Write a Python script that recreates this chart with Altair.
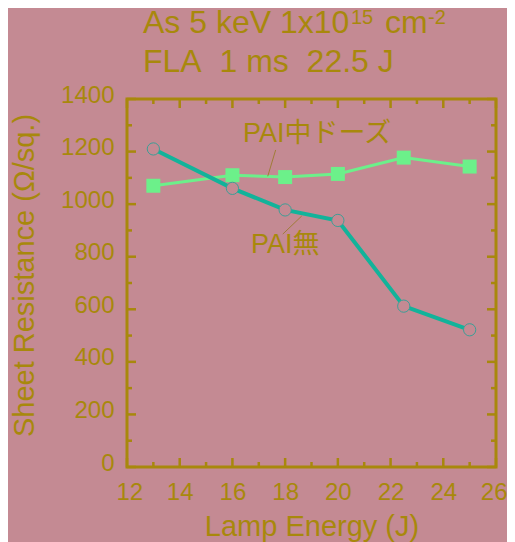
import altair as alt
import pandas as pd

# ---- data ----
energy = [13, 16, 18, 20, 22.5, 25]
rs_no_pai = [1210, 1060, 978, 938, 612, 522]      # PAI無 (open circles)
rs_pai_mid = [1070, 1110, 1103, 1115, 1177, 1143]  # PAI中ドーズ (squares)

x_major = [12, 14, 16, 18, 20, 22, 24, 26]
x_minor = [13, 15, 17, 19, 21, 23, 25]
y_major = [0, 200, 400, 600, 800, 1000, 1200, 1400]
y_minor = [100, 300, 500, 700, 900, 1100, 1300]

label_mid = "PAI中ドーズ"
label_no = "PAI無"
label_mid_pos = [16.40, 1238]
label_no_pos = [16.70, 814]
leader_mid = [[17.64, 1206], [17.34, 1106]]
leader_no = [[18.63, 955], [17.91, 886]]

title1_main = "As 5 keV 1x10"
title1_sup1 = "15"
title1_unit = "cm"
title1_sup2 = "-2"
title2 = "FLA\u00a0\u00a01 ms\u00a0\u00a022.5 J"

x_title = "Lamp Energy (J)"
y_title = "Sheet Resistance (Ω/sq.)"

# ---- style ----
BG = "#C48A93"
GOLD = "#A8880C"
TEAL = "#12B39A"
TEAL_EDGE = "#3E9E96"
GREEN = "#6CF08A"
LEADER = "#A07C38"
FONT = "Liberation Sans, Arial, Noto Sans CJK JP"
W, H = 369, 368

xs = alt.Scale(domain=[12, 26], nice=False, zero=False)
ys = alt.Scale(domain=[0, 1400], nice=False)

df = pd.DataFrame({"E": energy, "no": rs_no_pai, "mid": rs_pai_mid})

x_enc = alt.X("E:Q", scale=xs, axis=alt.Axis(
    values=x_major, ticks=False, domain=False, grid=False, labelFontSize=24,
    labelColor=GOLD, labelFont=FONT, labelPadding=13, labelFlush=True,
    labelFlushOffset=11, labelOverlap=False, title=x_title,
    titleFontSize=29, titleFont=FONT, titleColor=GOLD, titleFontWeight="normal",
    titleY=68, titleBaseline="alphabetic", format="d"))
y_axis = alt.Axis(
    values=y_major, ticks=False, domain=False, grid=False, labelFontSize=24,
    labelColor=GOLD, labelFont=FONT, labelPadding=13, labelOffset=-4,
    labelFlush=False, labelOverlap=False,
    title=y_title, titleFontSize=29, titleFont=FONT, titleColor=GOLD,
    titleFontWeight="normal", titleAngle=-90, titleX=-94, titleY=176,
    titleAlign="center", titleBaseline="alphabetic", format="d")

base = alt.Chart(df)
green_line = base.mark_line(color=GREEN, strokeWidth=3).encode(
    x=x_enc, y=alt.Y("mid:Q", scale=ys, axis=y_axis))
green_pts = base.mark_square(color=GREEN, size=196, opacity=1).encode(
    x=alt.X("E:Q", scale=xs), y=alt.Y("mid:Q", scale=ys))
teal_line = base.mark_line(color=TEAL, strokeWidth=4).encode(
    x=alt.X("E:Q", scale=xs), y=alt.Y("no:Q", scale=ys))
teal_pts = base.mark_point(shape="circle", size=150, filled=False, fill=BG,
                           fillOpacity=1, stroke=TEAL_EDGE, strokeWidth=1,
                           opacity=1).encode(
    x=alt.X("E:Q", scale=xs), y=alt.Y("no:Q", scale=ys))

# ticks (inside the frame)
def xticks(vals, length, top):
    d = pd.DataFrame({"v": vals})
    if top:
        yy, yy2 = alt.value(0), alt.value(length)
    else:
        yy, yy2 = alt.value(H), alt.value(H - length)
    return alt.Chart(d).mark_rule(color=GOLD, strokeWidth=2.5).encode(
        x=alt.X("v:Q", scale=xs), y=yy, y2=yy2)

def yticks(vals, length, right):
    d = pd.DataFrame({"v": vals})
    if right:
        xx, xx2 = alt.value(W), alt.value(W - length)
    else:
        xx, xx2 = alt.value(0), alt.value(length)
    return alt.Chart(d).mark_rule(color=GOLD, strokeWidth=2.5).encode(
        y=alt.Y("v:Q", scale=ys), x=xx, x2=xx2)

ticks = [xticks(x_major, 9, False), xticks(x_major, 9, True),
         xticks(x_minor, 5, False), xticks(x_minor, 5, True),
         yticks(y_major, 9, False), yticks(y_major, 9, True),
         yticks(y_minor, 5, False), yticks(y_minor, 5, True)]

# annotations
def leader(seg):
    d = pd.DataFrame({"x": [seg[0][0]], "y": [seg[0][1]],
                      "x2": [seg[1][0]], "y2": [seg[1][1]]})
    return alt.Chart(d).mark_rule(color=LEADER, strokeWidth=1).encode(
        x=alt.X("x:Q", scale=xs), y=alt.Y("y:Q", scale=ys), x2="x2:Q", y2="y2:Q")

def label(txt, pos):
    d = pd.DataFrame({"x": [pos[0]], "y": [pos[1]], "t": [txt]})
    return alt.Chart(d).mark_text(align="left", baseline="alphabetic",
                                  fontSize=27, font=FONT, color=GOLD).encode(
        x=alt.X("x:Q", scale=xs), y=alt.Y("y:Q", scale=ys), text="t:N")

def htext(txt, px, py, size):
    d = pd.DataFrame({"t": [txt]})
    return alt.Chart(d).mark_text(align="left", baseline="alphabetic",
                                  fontSize=size, font=FONT, color=GOLD).encode(
        x=alt.value(px), y=alt.value(py), text="t:N")

header = [htext(title1_main, 16, -66, 32), htext(title1_sup1, 224, -75, 20),
          htext(title1_unit, 258, -66, 32), htext(title1_sup2, 301, -75, 20),
          htext(title2, 16, -27, 32)]

chart = alt.layer(
    green_line, *ticks, green_pts, teal_line, teal_pts,
    leader(leader_mid), leader(leader_no),
    label(label_mid, label_mid_pos), label(label_no, label_no_pos),
    *header
).properties(
    width=W, height=H,
    autosize=alt.AutoSizeParams(type="none"),
    padding={"left": 119, "top": 91, "right": 11, "bottom": 75},
    background=BG,
).configure_view(stroke=GOLD, strokeWidth=3, fill=BG)

chart.save("out.html", embed_options={"renderer": "svg", "actions": False})
